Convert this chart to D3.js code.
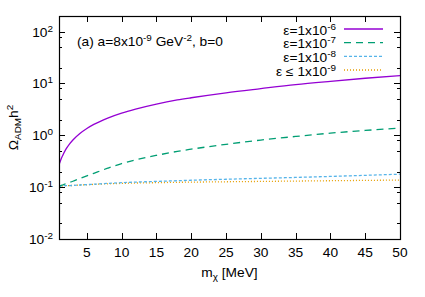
<!DOCTYPE html>
<html><head><meta charset="utf-8">
<script src="https://cdn.jsdelivr.net/npm/d3@7"></script>
<style>
html,body{margin:0;padding:0;background:#fff;}
svg{display:block;}
text{font-family:"Liberation Sans",Arial,Helvetica,sans-serif;fill:#000;}
</style></head>
<body>
<script>
// ---- data ----
const mass = [1, 1.25, 1.5, 2, 2.5, 3, 4, 5, 6, 8, 10, 12, 15, 18, 20, 25, 30, 35, 40, 45, 50];
const eps6 = [0.27, 0.335, 0.40, 0.54, 0.675, 0.81, 1.08, 1.35, 1.62, 2.15, 2.68, 3.20, 4.00, 4.80, 5.30, 6.60, 7.95, 9.50, 11.0, 12.6, 14.1];
const eps7 = [0.105, 0.107, 0.110, 0.117, 0.123, 0.130, 0.147, 0.165, 0.185, 0.232, 0.285, 0.335, 0.41, 0.49, 0.54, 0.67, 0.81, 0.95, 1.10, 1.24, 1.38];
const eps8 = [0.105, 0.105, 0.106, 0.107, 0.107, 0.108, 0.110, 0.112, 0.114, 0.118, 0.122, 0.125, 0.129, 0.133, 0.136, 0.142, 0.148, 0.154, 0.161, 0.169, 0.178];
const eps9 = [0.105, 0.105, 0.106, 0.107, 0.107, 0.108, 0.110, 0.111, 0.113, 0.116, 0.118, 0.120, 0.122, 0.124, 0.125, 0.127, 0.129, 0.131, 0.133, 0.135, 0.137];
const seriesLabels = [["ε=1x10", "-6"], ["ε=1x10", "-7"], ["ε=1x10", "-8"], ["ε ≤ 1x10", "-9"]];
const xTicks = [5, 10, 15, 20, 25, 30, 35, 40, 45, 50];
const yTicks = [0.01, 0.1, 1, 10, 100];
const yTickExp = ["-2", "-1", "0", "1", "2"];

// ---- layout ----
const W = 425, H = 297;
const L = 59, R = 400, T = 16, B = 239;
const FS = 12.5, SX = 1.1, SUP = 9;

const svg = d3.select("body").append("svg").attr("width", W).attr("height", H);
const x = d3.scaleLinear().domain([1, 50]).range([L, R]);
const y = d3.scaleLog().domain([0.01, 200]).range([B, T]);

function richText(g, x0, y0, parts, anchor, rot) {
  const t = g.append("text")
    .attr("transform", `translate(${x0},${y0})` + (rot ? ` rotate(${rot})` : "") + ` scale(${SX},1)`)
    .attr("text-anchor", anchor || "start")
    .style("font-size", FS + "px");
  let shift = 0;
  parts.forEach(p => {
    const kind = p[1] || "n";
    let target = kind === "sup" ? -5 : kind === "sub" ? 3 : 0;
    const ts = t.append("tspan").text(p[0]).attr("dy", target - shift);
    shift = target;
    if (kind !== "n") ts.style("font-size", SUP + "px");
  });
  return t;
}

// ticks (inward, mirrored)
const g = svg.append("g");
const minor = [];
[0.01, 0.1, 1, 10, 100].forEach(d => [2, 5, 8].forEach(k => { const v = d * k; if (v <= 200) minor.push(v); }));

const tickStyle = s => s.attr("stroke", "#000").attr("stroke-width", 1);
xTicks.forEach(v => {
  const px = Math.round(x(v)) + 0.5;
  tickStyle(g.append("line").attr("x1", px).attr("x2", px).attr("y1", B).attr("y2", B - 6));
  tickStyle(g.append("line").attr("x1", px).attr("x2", px).attr("y1", T).attr("y2", T + 6));
  richText(g, x(v), 257, [[String(v)]], "middle");
});
yTicks.forEach((v, i) => {
  const py = Math.round(y(v)) + 0.5;
  tickStyle(g.append("line").attr("x1", L).attr("x2", L + 6).attr("y1", py).attr("y2", py));
  tickStyle(g.append("line").attr("x1", R).attr("x2", R - 6).attr("y1", py).attr("y2", py));
  richText(g, 53, y(v) + 5, [["10"], [yTickExp[i], "sup"]], "end");
});
minor.forEach(v => {
  const py = Math.round(y(v)) + 0.5;
  tickStyle(g.append("line").attr("x1", L).attr("x2", L + 3).attr("y1", py).attr("y2", py));
  tickStyle(g.append("line").attr("x1", R).attr("x2", R - 3).attr("y1", py).attr("y2", py));
});

// curves
const series = [
  {vals: eps6, color: "#9400d3", dash: null},
  {vals: eps7, color: "#009e73", dash: "7,5"},
  {vals: eps8, color: "#56b4e9", dash: "3,2"},
  {vals: eps9, color: "#e69f00", dash: "1,2"}
];
const clip = svg.append("clipPath").attr("id", "c").append("rect")
  .attr("x", L).attr("y", T).attr("width", R - L).attr("height", B - T);
const line = d3.line().curve(d3.curveMonotoneX);
const cg = svg.append("g").attr("clip-path", "url(#c)");
series.slice().reverse().forEach(s => {
  cg.append("path")
    .attr("d", line(mass.map((m, i) => [x(m), y(s.vals[i])])))
    .attr("fill", "none").attr("stroke", s.color).attr("stroke-width", 1.3)
    .attr("stroke-dasharray", s.dash);
});

// frame
svg.append("rect").attr("x", L + 0.5).attr("y", T + 0.5).attr("width", R - L).attr("height", B - T)
  .attr("fill", "none").attr("stroke", "#000").attr("stroke-width", 1.2);

// legend
const legY = [29, 42.7, 56.3, 70];
series.forEach((s, i) => {
  richText(svg, 336, legY[i] + 5.5, [[seriesLabels[i][0]], [seriesLabels[i][1], "sup"]], "end");
  svg.append("line").attr("x1", 344).attr("x2", 383).attr("y1", legY[i]).attr("y2", legY[i])
    .attr("stroke", s.color).attr("stroke-width", 1.3).attr("stroke-dasharray", s.dash);
});

// annotation
richText(svg, 77, 46, [["(a) a=8x10"], ["-9", "sup"], [" GeV"], ["-2", "sup"], [", b=0"]], "start");

// axis labels
richText(svg, 229.5, 277, [["m"], ["χ", "sub"], [" [MeV]"]], "middle");
richText(svg, 18, 127.5, [["Ω"], ["ADM", "sub"], ["h"], ["2", "sup"]], "middle", -90);
</script>
</body></html>
